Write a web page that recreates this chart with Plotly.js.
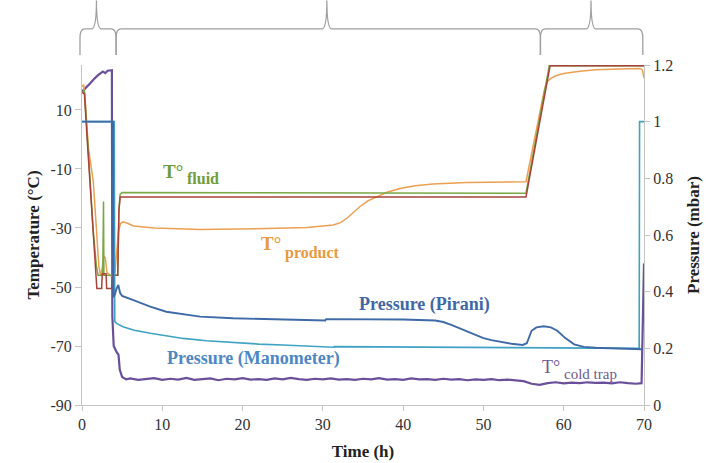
<!DOCTYPE html>
<html><head><meta charset="utf-8">
<script src="https://cdn.plot.ly/plotly-3.0.1.min.js"></script>
<style>html,body{margin:0;padding:0;background:#fff}</style>
</head><body><div id="chart" style="width:716px;height:463px"></div>
<script>
// ---- Data (time in h, temperature in °C, pressure in mbar) ----
const tFluid = [0, 0.3, 0.6, 1.0, 1.4, 1.8, 2.0, 2.58, 2.63, 2.68, 2.73, 3.0, 3.9, 4.45, 4.6, 4.75, 5, 10, 20, 30, 40, 50, 55.3, 58.2, 60, 65, 69.8, 70];
const vFluid = [16, 16.5, 4, -14, -31, -43, -46, -46, -21, -21, -46, -46, -46, -46, -24, -18.5, -18, -18, -18, -18, -18, -18, -18.2, 25, 25, 25, 25, 25];

const tRed = [0, 0.3, 0.6, 1.0, 1.4, 1.75, 1.85, 2.45, 2.52, 3.0, 3.07, 3.7, 3.78, 4.45, 4.6, 4.75, 5, 10, 20, 30, 40, 50, 55.3, 58.3, 60, 65, 70];
const vRed = [16, 15.5, 2, -16, -33, -48, -50.5, -50.5, -45.5, -45.5, -50.5, -50.5, -46, -46, -24, -19.5, -19.5, -19.5, -19.5, -19.5, -19.5, -19.5, -19.5, 25, 25, 25, 25];

const tProd = [0, 0.2, 0.35, 0.8, 1.4, 1.7, 2.1, 2.3, 2.5, 2.7, 2.9, 3.1, 3.5, 3.9, 4.1, 4.3, 4.55, 4.8, 5.1, 5.6, 6.4, 9, 14.7, 23, 28, 31.3, 32.2, 33, 33.8, 34.6, 35.6, 36.7, 38, 39.6, 41.5, 43.7, 47.9, 55.3, 57.6, 57.9, 58.4, 59, 60, 62, 64, 67, 69.5, 69.8, 70];
const vProd = [18, 18.5, 15, -3, -14, -28, -43, -46, -44, -39.5, -40, -45, -46, -47, -45, -39, -31, -28.5, -27.9, -28.3, -29.3, -30, -30.5, -30.2, -29.8, -29, -28.2, -26.7, -24.8, -22.8, -20.8, -19.4, -17.9, -16.6, -15.7, -15.1, -14.6, -14.3, 17, 19.5, 20.7, 21.6, 22.4, 23.1, 23.6, 23.9, 24.1, 23.6, 20.8];

const tCold = [0, 0.5, 1, 1.5, 2, 2.6, 2.9, 3.2, 3.72, 3.78, 3.95, 4.3, 4.55, 4.7, 5.0, 5.5, 6, 7, 8, 9, 10, 11, 12, 13, 14, 15, 16, 17, 18, 19, 20, 21, 22, 23, 24, 25, 26, 27, 28, 29, 30, 31, 32, 33, 34, 35, 36, 37, 38, 39, 40, 41, 42, 43, 44, 45, 46, 47, 48, 49, 50, 51, 52, 53, 54, 55, 56, 57, 58, 59, 60, 61, 62, 63, 64, 65, 66, 67, 68, 69, 69.7, 70];
const vCold = [16.2, 17.5, 19, 20.5, 21.8, 23, 22.5, 23.3, 23.5, -60, -70, -72, -73, -78, -80.5, -81.3, -81, -81.5, -81.2, -80.9, -81.5, -81.1, -81.4, -80.8, -81.5, -81.2, -81, -81.6, -81.1, -81.3, -80.9, -81.4, -81.2, -81.5, -81, -81.3, -80.8, -81.2, -81.5, -81.1, -81.3, -81, -81.4, -81.2, -81.5, -81.1, -81.3, -80.9, -81.4, -81.2, -81.5, -81, -81.3, -81.2, -81.5, -81.1, -81.4, -81.2, -81.6, -81.3, -81.5, -81.2, -81.6, -81.4, -81.7, -81.9, -82.8, -83.2, -82.6, -82.3, -82.7, -82.4, -82.6, -82.3, -82.5, -82.4, -82.7, -82.3, -82.6, -82.8, -82.6, -42];

const tPir = [0, 3.87, 3.9, 4.1, 4.3, 4.52, 4.75, 5.0, 6.4, 8.5, 10.5, 13, 14.7, 18.8, 25, 29.6, 30.3, 30.4, 36, 40, 44, 45, 46, 47, 47.9, 49, 50, 51, 52, 53.5, 54.9, 55.4, 56.0, 56.6, 57.5, 58.4, 59.2, 60.2, 61.3, 62.5, 64, 66, 69.8];
const vPir = [1.0, 1.0, 0.38, 0.39, 0.41, 0.424, 0.395, 0.385, 0.37, 0.347, 0.329, 0.318, 0.312, 0.306, 0.302, 0.298, 0.298, 0.303, 0.303, 0.302, 0.298, 0.293, 0.283, 0.271, 0.259, 0.246, 0.236, 0.229, 0.223, 0.216, 0.212, 0.218, 0.262, 0.274, 0.278, 0.274, 0.262, 0.236, 0.214, 0.205, 0.202, 0.201, 0.197];

const tMan = [0, 4.02, 4.08, 4.3, 5.1, 6.5, 8.5, 10.5, 12.6, 15.5, 18.8, 22, 25, 28, 31.3, 31.4, 40, 50, 60, 69.4, 69.45, 70];
const vMan = [1.0, 1.0, 0.295, 0.288, 0.276, 0.264, 0.253, 0.243, 0.235, 0.227, 0.22, 0.215, 0.212, 0.207, 0.204, 0.206, 0.205, 0.204, 0.203, 0.2, 1.0, 1.0];

const xTicks = [0, 10, 20, 30, 40, 50, 60, 70];
const yTicks = [-90, -70, -50, -30, -10, 10];
const yTickText = ['-90', '-70', '-50', '-30', '-10', '10'];
const y2Ticks = [0, 0.2, 0.4, 0.6, 0.8, 1, 1.2];
const y2TickText = ['0', '0.2', '0.4', '0.6', '0.8', '1', '1.2'];

// phase braces: [start, peak, end] in hours
const phases = [[-0.25, 1.8, 4.25], [4.25, 30.5, 57.1], [57.1, 63.4, 69.85]];

const FONT = '"Liberation Serif", "DejaVu Serif", serif';
const C = {green:'#7aa746', red:'#a8433a', orange:'#ec9f52', purple:'#6a4f9a', pirani:'#3f6aa8', mano:'#3fa2c4'};

function line(x, y, color, width, axis) {
  return {x, y, type:'scatter', mode:'lines', yaxis: axis, line:{color, width}, hoverinfo:'skip', showlegend:false};
}
const traces = [
  line(tMan, vMan, C.mano, 1.6, 'y2'),
  line(tPir, vPir, C.pirani, 1.9, 'y2'),
  line(tCold, vCold, C.purple, 2.2, 'y'),
  line(tProd, vProd, C.orange, 1.5, 'y'),
  line(tFluid, vFluid, C.green, 1.5, 'y'),
  line(tRed, vRed, C.red, 1.5, 'y'),
];

const XR = [0, 70];
const px = t => (t - XR[0]) / (XR[1] - XR[0]);
const yb = 1.0294, yc = 1.08, yh = 1.106, yt = 1.19, r = 0.009;
const shapes = phases.map(([a, m, b]) => {
  const A = px(a), M = px(m), B = px(b);
  return {type:'path', xref:'paper', yref:'paper', line:{color:'#a0a0a0', width:1.3},
    path:`M${A},${yb} L${A},${yc} Q${A},${yh} ${A+r},${yh} L${M-r},${yh} Q${M},${yh} ${M},${yt} Q${M},${yh} ${M+r},${yh} L${B-r},${yh} Q${B},${yh} ${B},${yc} L${B},${yb}`};
});

function ann(text, x, y, color, size, xanchor, bold) {
  return {text: bold ? '<b>'+text+'</b>' : text, x, y, xref:'x', yref:'y', showarrow:false,
    xanchor, yanchor:'middle', font:{family:FONT, size, color}};
}
const annotations = [
  ann('T°', 12.8, -10.7, '#6f9d3a', 19, 'right', true),
  ann('fluid', 12.8, -13.3, '#6f9d3a', 16, 'left', true),
  ann('T°', 25.0, -35.1, '#e99a40', 19, 'right', true),
  ann('product', 25.0, -38.6, '#e99a40', 16, 'left', true),
  ann('Pressure (Pirani)', 42.7, -56.1, '#3e68a6', 18, 'center', true),
  ann('Pressure (Manometer)', 21.3, -74.1, '#4d87c4', 18, 'center', true),
  ann('T°', 59.8, -77.0, '#6f5a92', 18, 'right', false),
  ann('cold trap', 59.8, -79.4, '#6f5a92', 15, 'left', false),
];

const axBase = {showgrid:false, zeroline:false, showline:true, linecolor:'#c4c4c4', linewidth:1,
  ticks:'outside', tickcolor:'#c4c4c4', ticklen:6, tickfont:{family:FONT, size:16, color:'#333'}};

const layout = {
  width:716, height:463, paper_bgcolor:'#fff', plot_bgcolor:'#fff',
  font:{family:FONT},
  margin:{l:82, r:72, t:65, b:58}, showlegend:false,
  xaxis: Object.assign({}, axBase, {range:XR, tickvals:xTicks, ticklen:5,
    title:{text:'<b>Time (h)</b>', font:{family:FONT, size:17, color:'#222'}, standoff:12}}),
  yaxis: Object.assign({}, axBase, {range:[-90, 25.25], tickvals:yTicks, ticktext:yTickText,
    title:{text:'<b>Temperature (°C)</b>', font:{family:FONT, size:17, color:'#222'}, standoff:6}}),
  yaxis2: Object.assign({}, axBase, {range:[0, 1.2], tickvals:y2Ticks, ticktext:y2TickText, overlaying:'y', side:'right', ticklen:5,
    title:{text:'<b>Pressure (mbar)</b>', font:{family:FONT, size:17, color:'#222'}, standoff:14}}),
  shapes, annotations
};
Plotly.newPlot('chart', traces, layout, {staticPlot:true, displayModeBar:false});
</script></body></html>
